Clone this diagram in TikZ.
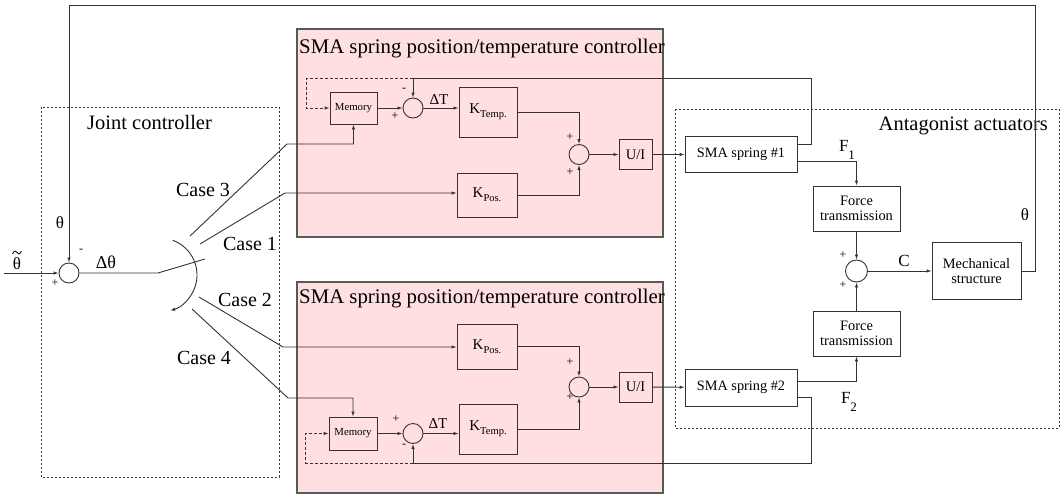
\documentclass[tikz,border=0pt]{standalone}
\usepackage{fontspec}
\setmainfont{Liberation Serif}
\usetikzlibrary{arrows.meta}
\definecolor{pinkbg}{RGB}{255,223,225}
\newcommand\fz[1]{\fontsize{#1}{#1}\selectfont}
\newcommand\ksub[2]{#1\raisebox{-4pt}{\fz{10.5}#2}}
\newcommand\fsub[2]{#1\raisebox{-8pt}{\fz{13}#2}}

\begin{document}
\begin{tikzpicture}[x=1pt,y=-1pt,
  box/.style={draw=black!80,line width=0.9pt,inner sep=0pt,align=center},
  sumnode/.style={draw=black!80,line width=0.9pt,circle,minimum size=20pt,inner sep=0pt},
  ctrl/.style={draw=black!65,line width=1.5pt,fill=pinkbg},
  zone/.style={draw=black!80,line width=0.8pt,dash pattern=on 2pt off 2pt},
  wire/.style={draw=black!80,line width=0.9pt},
  sig/.style={wire,-{Latex[length=5pt,width=3.5pt]}},
  fb/.style={sig,dash pattern=on 3pt off 2pt},
  lab/.style={inner sep=0pt}]

\useasboundingbox (0,0) rectangle (1062,498);

%% frames
\draw[ctrl] (297,29) rectangle (663,237);
\draw[ctrl] (297,282) rectangle (663,493);
\draw[zone] (41,107) rectangle (279,477);
\draw[zone] (675,109) rectangle (1059,428);

\node[lab,anchor=base west,font=\fz{20.8}] (title1) at (299,53) {SMA spring position/temperature controller};
\node[lab,anchor=base west,font=\fz{20.8}] (title2) at (299,303) {SMA spring position/temperature controller};
\node[lab,anchor=base west,font=\fz{20.5}] (jclabel) at (87,129) {Joint controller};
\node[lab,anchor=base east,font=\fz{20.5}] (aalabel) at (1048,130) {Antagonist actuators};

%% joint controller
\node[sumnode] (js) at (69,273) {};
\coordinate (in) at (4,273);
\draw[sig] (in) -- (js);
\node[lab,font=\fz{17}] (thtilde) at (17,264) {θ};
\draw[line width=0.8pt] (12.5,254) .. controls (14.5,250) and (16,250.5) .. (17,252.5)
  .. controls (18,254.5) and (19.5,255) .. (21.5,251); %% tilde
\node[lab,font=\fz{17}] (thleft) at (60,223) {θ};
\node[lab,font=\fz{18}] (dth) at (106,262) {Δθ};
\node[lab,font=\fz{12}] (jsplus) at (55,283) {+};
\node[lab,font=\fz{12}] (jsminus) at (81,251) {-};

\coordinate (sw0) at (158,273);
\coordinate (sw1) at (205,259);
\draw[wire] (js) -- (sw0) -- (sw1);
\draw[wire,-{Latex[length=5pt,width=3.5pt]}] (160,275) ++(-70:37) arc[start angle=-70,end angle=74,radius=37];

\coordinate (c3a) at (190,236); \coordinate (c3b) at (287,144);
\coordinate (c1a) at (200,244); \coordinate (c1b) at (285,193);
\coordinate (c2a) at (199,297); \coordinate (c2b) at (283,347);
\coordinate (c4a) at (192,309); \coordinate (c4b) at (288,398);

\node[lab,font=\fz{20}] (case3) at (203,190) {Case 3};
\node[lab,font=\fz{20}] (case1) at (250,244) {Case 1};
\node[lab,font=\fz{20}] (case2) at (245,300) {Case 2};
\node[lab,font=\fz{20}] (case4) at (204,358) {Case 4};

%% upper controller
\node[box,minimum width=47pt,minimum height=32pt,font=\fz{10.8}] (mem1) at (353.5,108) {Memory};
\node[sumnode] (s1t) at (413,108) {};
\node[box,minimum width=58pt,minimum height=50pt,font=\fz{15}] (ktemp1) at (488,112) {\ksub{K}{Temp.}};
\node[box,minimum width=60pt,minimum height=44pt,font=\fz{15}] (kpos1) at (487,195) {\ksub{K}{Pos.}};
\node[sumnode] (a1) at (579,154.5) {};
\node[box,minimum width=33pt,minimum height=30pt,font=\fz{14.5}] (ui1) at (635.5,154.5) {U/I};
\node[box,minimum width=112pt,minimum height=36pt,font=\fz{14.3}] (spr1) at (741,154.5) {SMA spring \#1};

\node[lab,font=\fz{12}] (s1minus) at (404,90) {-};
\node[lab,font=\fz{12}] (s1plus) at (395,116) {+};
\node[lab,font=\fz{15}] (dT1) at (439,100) {ΔT};
\node[lab,font=\fz{12}] (a1p1) at (570,137) {+};
\node[lab,font=\fz{12}] (a1p2) at (570,172) {+};

\draw[sig] (c3a) -- (c3b) -| (mem1.south);
\draw[sig] (c1a) -- (c1b) -- (kpos1.west |- c1b);
\draw[sig] (mem1) -- (s1t);
\draw[sig] (s1t) -- (s1t -| ktemp1.west);
\draw[sig] (ktemp1) -| (a1);
\draw[sig] (kpos1) -| (a1);
\draw[sig] (a1) -- (ui1);
\draw[sig] (ui1) -- (spr1);

\coordinate (fb1r) at (811,78);
\coordinate (fb1l) at (413,78);
\draw[sig] ([yshift=10pt]spr1.east) -| (fb1r) -| (s1t);
\draw[fb] (fb1l) -| ([xshift=-23pt]mem1.west) -- (mem1.west);

%% lower controller
\node[box,minimum width=60pt,minimum height=45pt,font=\fz{15}] (kpos2) at (487,346.5) {\ksub{K}{Pos.}};
\node[box,minimum width=48pt,minimum height=33pt,font=\fz{10.8}] (mem2) at (353,433.5) {Memory};
\node[sumnode] (s2t) at (413,433.5) {};
\node[box,minimum width=58pt,minimum height=50pt,font=\fz{15}] (ktemp2) at (488,429) {\ksub{K}{Temp.}};
\node[sumnode] (a2) at (579,387) {};
\node[box,minimum width=33pt,minimum height=30pt,font=\fz{14.5}] (ui2) at (635.5,387) {U/I};
\node[box,minimum width=112pt,minimum height=37pt,font=\fz{14.3}] (spr2) at (741,387.5) {SMA spring \#2};

\node[lab,font=\fz{12}] (s2plus) at (396,419) {+};
\node[lab,font=\fz{12}] (s2minus) at (404,446) {-};
\node[lab,font=\fz{15}] (dT2) at (438,424) {ΔT};
\node[lab,font=\fz{12}] (a2p1) at (570,362) {+};
\node[lab,font=\fz{12}] (a2p2) at (570,397) {+};

\draw[sig] (c2a) -- (c2b) -- (kpos2.west |- c2b);
\draw[sig] (c4a) -- (c4b) -| (mem2.north);
\draw[sig] (mem2) -- (s2t);
\draw[sig] (s2t) -- (s2t -| ktemp2.west);
\draw[sig] (kpos2) -| (a2);
\draw[sig] (ktemp2) -| (a2);
\draw[sig] (a2) -- (ui2);
\draw[sig] (ui2) -- (spr2);

\coordinate (fb2r) at (811,463);
\coordinate (fb2l) at (413,463);
\draw[sig] ([yshift=-9.5pt]spr2.east) -| (fb2r) -| (s2t);
\draw[fb] (fb2l) -| ([xshift=-23pt]mem2.west) -- (mem2.west);

%% antagonist actuators
\node[box,minimum width=87pt,minimum height=45pt,font=\fz{14.4}] (ft1) at (856.5,208.5) {Force\\transmission};
\node[box,minimum width=87pt,minimum height=45pt,font=\fz{14.4}] (ft2) at (856.5,333.5) {Force\\transmission};
\node[sumnode,minimum size=22pt] (sc) at (856.5,271) {};
\node[box,minimum width=89pt,minimum height=57pt,font=\fz{14.4}] (mech) at (976.5,271) {Mechanical\\structure};

\node[lab,font=\fz{17}] (f1) at (847,150) {\fsub{F}{1}};
\node[lab,font=\fz{17}] (f2) at (849,402) {\fsub{F}{2}};
\node[lab,font=\fz{17}] (clab) at (904,261) {C};
\node[lab,font=\fz{17}] (thright) at (1025,215) {θ};
\node[lab,font=\fz{12}] (scp1) at (843,255) {+};
\node[lab,font=\fz{12}] (scp2) at (843,285) {+};

\draw[sig] ([yshift=-7pt]spr1.east) -| (ft1);
\draw[sig] ([yshift=6.5pt]spr2.east) -| (ft2);
\draw[sig] (ft1) -- (sc);
\draw[sig] (ft2) -- (sc);
\draw[sig] (sc) -- (mech);

\coordinate (outr) at (1035,5);
\coordinate (outl) at (69,5);
\draw[sig] (mech) -| (outr) -- (outl) -- (js);

\end{tikzpicture}
\end{document}
